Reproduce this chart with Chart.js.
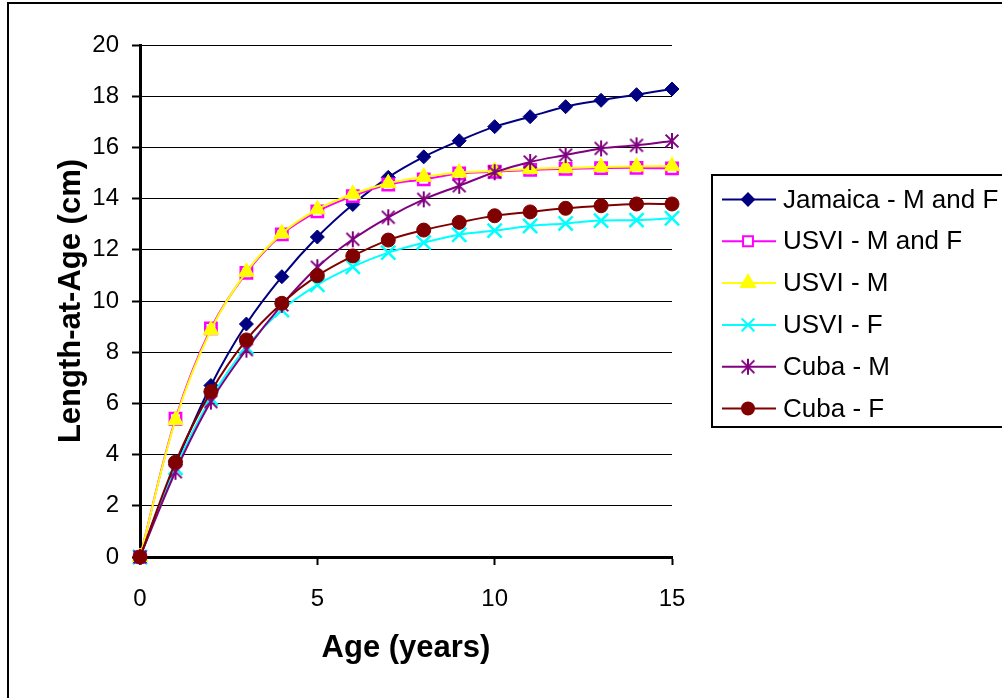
<!DOCTYPE html>
<html>
<head>
<meta charset="utf-8">
<title>Length-at-Age</title>
<script src="https://cdn.jsdelivr.net/npm/chart.js"></script>
<style>
  html, body { margin: 0; padding: 0; background: #fff; }
  #wrap { position: relative; width: 1002px; height: 698px; }
</style>
</head>
<body>
<div id="wrap"><canvas id="growthChart"></canvas></div>
<script>
// Età (anni) e lunghezze (cm)
const ages = [0, 1, 2, 3, 4, 5, 6, 7, 8, 9, 10, 11, 12, 13, 14, 15];
const jamaicaMF = [0, 3.6, 6.7, 9.1, 10.95, 12.5, 13.77, 14.83, 15.63, 16.26, 16.81, 17.2, 17.59, 17.84, 18.06, 18.28];
const usviMF = [0, 5.4, 8.93, 11.1, 12.6, 13.5, 14.1, 14.55, 14.75, 14.98, 15.05, 15.12, 15.16, 15.19, 15.2, 15.18];
const usviM = [0, 5.35, 8.87, 11.14, 12.64, 13.58, 14.18, 14.6, 14.85, 15.02, 15.08, 15.16, 15.2, 15.23, 15.25, 15.27];
const usviF = [0, 3.48, 6.2, 8.2, 9.65, 10.63, 11.34, 11.89, 12.28, 12.59, 12.75, 12.93, 13.03, 13.14, 13.16, 13.23];
const cubaM = [0, 3.33, 6.07, 8.1, 9.85, 11.32, 12.41, 13.27, 13.97, 14.5, 15.03, 15.43, 15.7, 15.96, 16.08, 16.25];
const cubaF = [0, 3.7, 6.46, 8.48, 9.91, 10.99, 11.76, 12.38, 12.77, 13.07, 13.33, 13.48, 13.62, 13.72, 13.79, 13.79];

const seriesNames = ['Jamaica - M and F', 'USVI - M and F', 'USVI - M', 'USVI - F', 'Cuba - M', 'Cuba - F'];
const seriesValues = [jamaicaMF, usviMF, usviM, usviF, cubaM, cubaF];

const xTickValues = [0, 5, 10, 15];
const yTickValues = [0, 2, 4, 6, 8, 10, 12, 14, 16, 18, 20];

const FONT = '"Liberation Sans", Arial, sans-serif';

// Marker asterisco (stile Excel: X + linea verticale)
function makeAsterisk(color, r) {
    const c = document.createElement('canvas');
    const s = r * 2 + 4;
    c.width = s; c.height = s;
    const g = c.getContext('2d');
    const m = s / 2;
    g.strokeStyle = color;
    g.lineWidth = 2;
    g.beginPath();
    g.moveTo(m, m - r); g.lineTo(m, m + r);
    g.moveTo(m - r * 0.8, m - r * 0.8); g.lineTo(m + r * 0.8, m + r * 0.8);
    g.moveTo(m + r * 0.8, m - r * 0.8); g.lineTo(m - r * 0.8, m + r * 0.8);
    g.stroke();
    return c;
}

const styles = [
    { color: '#000080', pointStyle: 'rectRot', radius: 7, fill: '#000080', bw: 1 },
    { color: '#FF00FF', pointStyle: 'rect', radius: 8, fill: '#FFFFFF', bw: 2.5 },
    { color: '#FFFF00', pointStyle: 'triangle', radius: 9, fill: '#FFFF00', bw: 1 },
    { color: '#00FFFF', pointStyle: 'crossRot', radius: 10, fill: '#00FFFF', bw: 2.5 },
    { color: '#800080', pointStyle: makeAsterisk('#800080', 8), radius: 8, fill: '#800080', bw: 2 },
    { color: '#800000', pointStyle: 'circle', radius: 7, fill: '#800000', bw: 1 }
];

const datasets = seriesNames.map((name, i) => ({
    label: name,
    data: ages.map((a, j) => ({ x: a, y: seriesValues[i][j] })),
    borderColor: styles[i].color,
    backgroundColor: styles[i].fill,
    pointStyle: styles[i].pointStyle,
    pointRadius: styles[i].radius,
    pointBorderWidth: styles[i].bw,
    pointBorderColor: styles[i].color,
    pointBackgroundColor: styles[i].fill,
    borderWidth: 2,
    tension: 0.35,
    clip: false,
    order: seriesNames.length - i
}));

// Sfondo bianco e cornice esterna
const framePlugin = {
    id: 'frame',
    beforeDraw(chart) {
        const ctx = chart.ctx;
        ctx.save();
        ctx.fillStyle = '#fff';
        ctx.fillRect(0, 0, chart.width, chart.height);
        ctx.restore();
    },
    afterDraw(chart) {
        const ctx = chart.ctx;
        ctx.save();
        ctx.strokeStyle = '#000';
        ctx.lineWidth = 2;
        ctx.strokeRect(8, 3, 1100, 800);
        ctx.restore();
    }
};

// Legenda a destra con riquadro, linea e marker
const legendPlugin = {
    id: 'boxLegend',
    afterDraw(chart) {
        const ctx = chart.ctx;
        ctx.save();
        ctx.strokeStyle = '#000';
        ctx.lineWidth = 2;
        ctx.strokeRect(712, 175, 400, 252);
        ctx.font = '26px ' + FONT;
        ctx.textBaseline = 'middle';
        ctx.textAlign = 'left';
        seriesNames.forEach((name, i) => {
            const y = 199.5 + i * 41.8;
            const st = styles[i];
            ctx.strokeStyle = st.color;
            ctx.lineWidth = 2;
            ctx.beginPath();
            ctx.moveTo(722, y);
            ctx.lineTo(776, y);
            ctx.stroke();
            ctx.fillStyle = st.fill;
            ctx.strokeStyle = st.color;
            Chart.helpers.drawPoint(ctx, {
                pointStyle: st.pointStyle,
                radius: st.radius - 1,
                borderWidth: st.bw,
                rotation: 0
            }, 748, y);
            ctx.fillStyle = '#000';
            ctx.fillText(name, 783, y + 1);
        });
        ctx.restore();
    }
};

new Chart(document.getElementById('growthChart'), {
    type: 'line',
    data: { datasets: datasets },
    plugins: [framePlugin, legendPlugin],
    options: {
        responsive: true,
        maintainAspectRatio: false,
        animation: false,
        layout: { padding: { left: 40, top: 45, right: 330, bottom: 0 } },
        plugins: {
            legend: { display: false },
            tooltip: { enabled: false }
        },
        scales: {
            x: {
                type: 'linear',
                min: 0,
                max: 15,
                afterBuildTicks: scale => { scale.ticks = xTickValues.map(v => ({ value: v })); },
                afterFit: scale => { scale.height = 141; },
                grid: {
                    drawOnChartArea: false,
                    tickLength: 8,
                    tickWidth: 2,
                    tickColor: '#000'
                },
                border: { display: true, color: '#000', width: 3 },
                ticks: {
                    color: '#000',
                    padding: 20,
                    maxRotation: 0,
                    font: { family: FONT, size: 24 }
                },
                title: {
                    display: true,
                    text: 'Age (years)',
                    color: '#000',
                    padding: { top: 0, bottom: 31 },
                    font: { family: FONT, size: 31, weight: 'bold' }
                }
            },
            y: {
                min: 0,
                max: 20,
                afterBuildTicks: scale => { scale.ticks = yTickValues.map(v => ({ value: v })); },
                afterFit: scale => { scale.width = 100; },
                grid: {
                    color: '#000',
                    lineWidth: 1,
                    tickLength: 8,
                    tickWidth: 2,
                    tickColor: '#000'
                },
                border: { display: true, color: '#000', width: 3 },
                ticks: {
                    color: '#000',
                    padding: 13,
                    font: { family: FONT, size: 24 }
                },
                title: {
                    display: true,
                    text: 'Length-at-Age (cm)',
                    color: '#000',
                    padding: { top: 13, bottom: 0 },
                    font: { family: FONT, size: 31, weight: 'bold' }
                }
            }
        }
    }
});
</script>
</body>
</html>
